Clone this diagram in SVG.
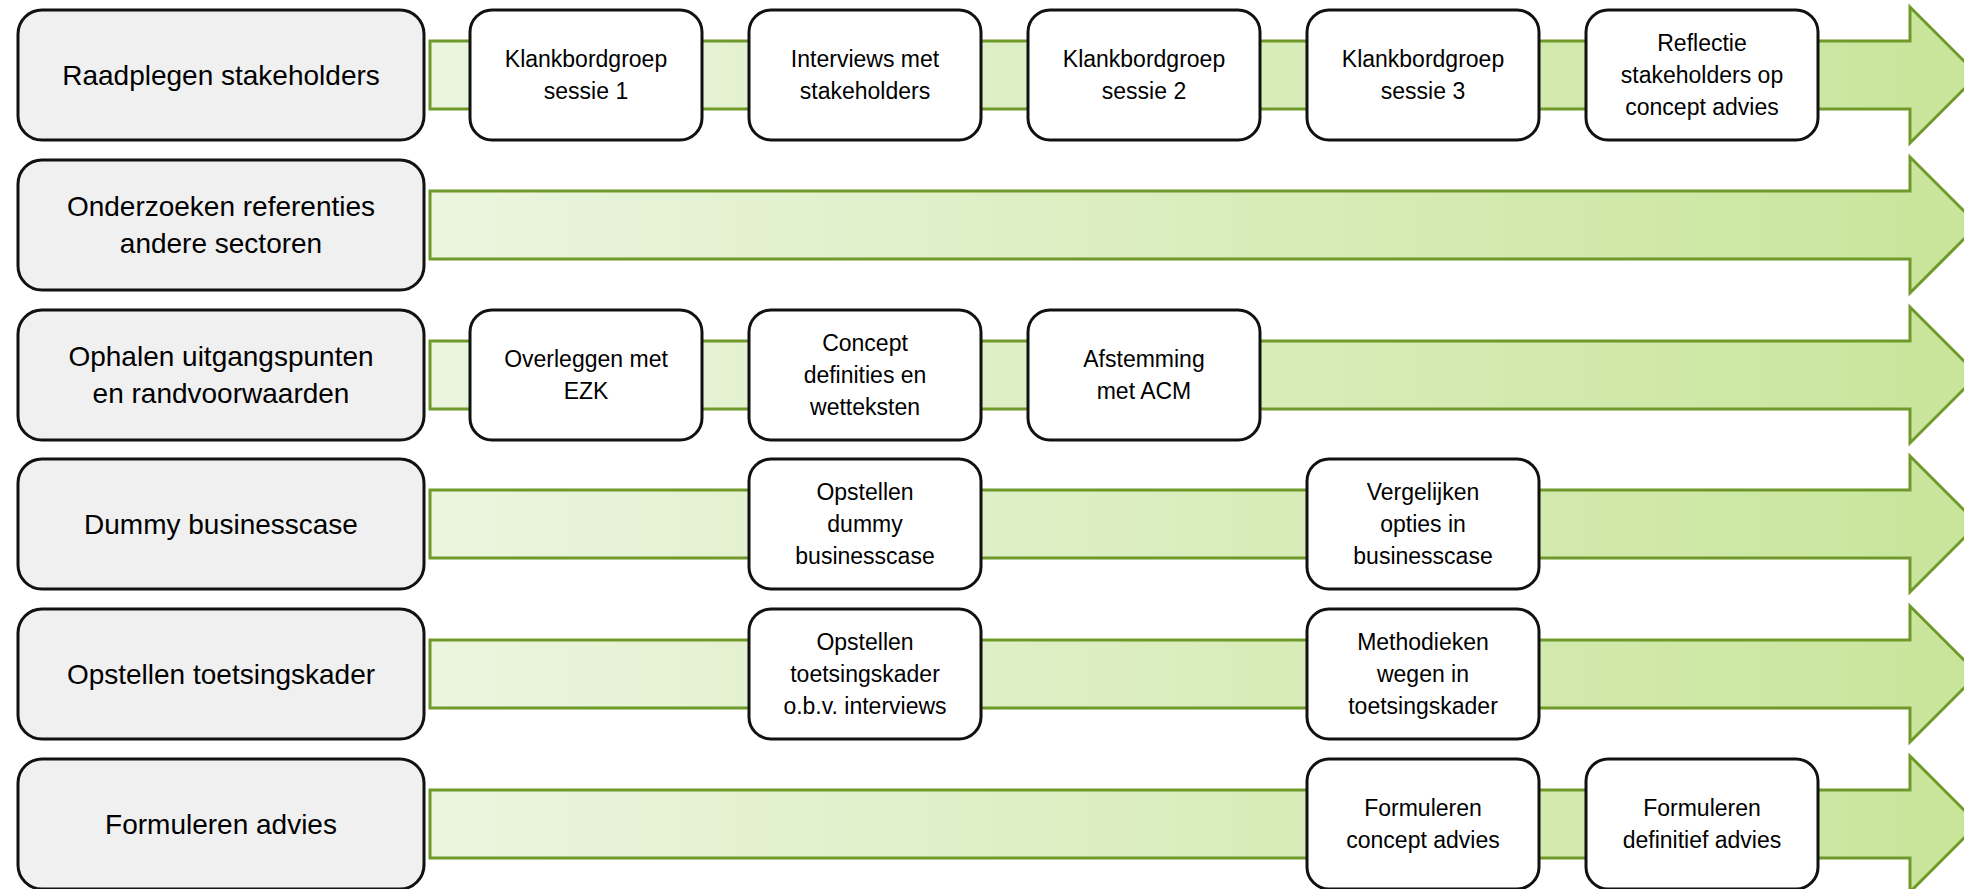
<svg xmlns="http://www.w3.org/2000/svg" width="1964" height="889" viewBox="0 0 1964 889">
<defs>
<linearGradient id="g" gradientUnits="userSpaceOnUse" x1="430" y1="0" x2="1978" y2="0">
<stop offset="0" stop-color="#ebf5df"/>
<stop offset="1" stop-color="#c8e59a"/>
</linearGradient>
<style>
.arr{fill:url(#g);stroke:#6f9a2a;stroke-width:3;stroke-linejoin:miter}
.lane{fill:#f0f0f0;stroke:#111;stroke-width:3}
.step{fill:#fff;stroke:#111;stroke-width:3}
.lt{font-family:"Liberation Sans",Arial,sans-serif;font-size:28px;fill:#000;text-anchor:middle}
.st{font-family:"Liberation Sans",Arial,sans-serif;font-size:23px;fill:#000;text-anchor:middle}
</style>
</defs>
<rect width="1964" height="889" fill="#fff"/>
<g id="connectors">
<polygon class="arr" points="430,41 1910,41 1910,7 1978,75 1910,143 1910,109 430,109"/>
<polygon class="arr" points="430,191 1910,191 1910,157 1978,225 1910,293 1910,259 430,259"/>
<polygon class="arr" points="430,341 1910,341 1910,307 1978,375 1910,443 1910,409 430,409"/>
<polygon class="arr" points="430,490 1910,490 1910,456 1978,524 1910,592 1910,558 430,558"/>
<polygon class="arr" points="430,640 1910,640 1910,606 1978,674 1910,742 1910,708 430,708"/>
<polygon class="arr" points="430,790 1910,790 1910,756 1978,824 1910,892 1910,858 430,858"/>
</g>
<g id="lane1"><rect class="lane" x="18" y="10" width="406" height="130" rx="24"/><text class="lt" x="221" y="85">Raadplegen stakeholders</text></g>
<g id="lane2"><rect class="lane" x="18" y="160" width="406" height="130" rx="24"/><text class="lt" x="221" y="216">Onderzoeken referenties</text><text class="lt" x="221" y="253">andere sectoren</text></g>
<g id="lane3"><rect class="lane" x="18" y="310" width="406" height="130" rx="24"/><text class="lt" x="221" y="366">Ophalen uitgangspunten</text><text class="lt" x="221" y="403">en randvoorwaarden</text></g>
<g id="lane4"><rect class="lane" x="18" y="459" width="406" height="130" rx="24"/><text class="lt" x="221" y="534">Dummy businesscase</text></g>
<g id="lane5"><rect class="lane" x="18" y="609" width="406" height="130" rx="24"/><text class="lt" x="221" y="684">Opstellen toetsingskader</text></g>
<g id="lane6"><rect class="lane" x="18" y="759" width="406" height="130" rx="24"/><text class="lt" x="221" y="834">Formuleren advies</text></g>

<g id="s1-1"><rect class="step" x="470" y="10" width="232" height="130" rx="22"/><text class="st" x="586" y="67">Klankbordgroep</text><text class="st" x="586" y="99">sessie 1</text></g>
<g id="s1-2"><rect class="step" x="749" y="10" width="232" height="130" rx="22"/><text class="st" x="865" y="67">Interviews met</text><text class="st" x="865" y="99">stakeholders</text></g>
<g id="s1-3"><rect class="step" x="1028" y="10" width="232" height="130" rx="22"/><text class="st" x="1144" y="67">Klankbordgroep</text><text class="st" x="1144" y="99">sessie 2</text></g>
<g id="s1-4"><rect class="step" x="1307" y="10" width="232" height="130" rx="22"/><text class="st" x="1423" y="67">Klankbordgroep</text><text class="st" x="1423" y="99">sessie 3</text></g>
<g id="s1-5"><rect class="step" x="1586" y="10" width="232" height="130" rx="22"/><text class="st" x="1702" y="51">Reflectie</text><text class="st" x="1702" y="83">stakeholders op</text><text class="st" x="1702" y="115">concept advies</text></g>

<g id="s3-1"><rect class="step" x="470" y="310" width="232" height="130" rx="22"/><text class="st" x="586" y="367">Overleggen met</text><text class="st" x="586" y="399">EZK</text></g>
<g id="s3-2"><rect class="step" x="749" y="310" width="232" height="130" rx="22"/><text class="st" x="865" y="351">Concept</text><text class="st" x="865" y="383">definities en</text><text class="st" x="865" y="415">wetteksten</text></g>
<g id="s3-3"><rect class="step" x="1028" y="310" width="232" height="130" rx="22"/><text class="st" x="1144" y="367">Afstemming</text><text class="st" x="1144" y="399">met ACM</text></g>

<g id="s4-2"><rect class="step" x="749" y="459" width="232" height="130" rx="22"/><text class="st" x="865" y="500">Opstellen</text><text class="st" x="865" y="532">dummy</text><text class="st" x="865" y="564">businesscase</text></g>
<g id="s4-4"><rect class="step" x="1307" y="459" width="232" height="130" rx="22"/><text class="st" x="1423" y="500">Vergelijken</text><text class="st" x="1423" y="532">opties in</text><text class="st" x="1423" y="564">businesscase</text></g>

<g id="s5-2"><rect class="step" x="749" y="609" width="232" height="130" rx="22"/><text class="st" x="865" y="650">Opstellen</text><text class="st" x="865" y="682">toetsingskader</text><text class="st" x="865" y="714">o.b.v. interviews</text></g>
<g id="s5-4"><rect class="step" x="1307" y="609" width="232" height="130" rx="22"/><text class="st" x="1423" y="650">Methodieken</text><text class="st" x="1423" y="682">wegen in</text><text class="st" x="1423" y="714">toetsingskader</text></g>

<g id="s6-4"><rect class="step" x="1307" y="759" width="232" height="130" rx="22"/><text class="st" x="1423" y="816">Formuleren</text><text class="st" x="1423" y="848">concept advies</text></g>
<g id="s6-5"><rect class="step" x="1586" y="759" width="232" height="130" rx="22"/><text class="st" x="1702" y="816">Formuleren</text><text class="st" x="1702" y="848">definitief advies</text></g>
</svg>
